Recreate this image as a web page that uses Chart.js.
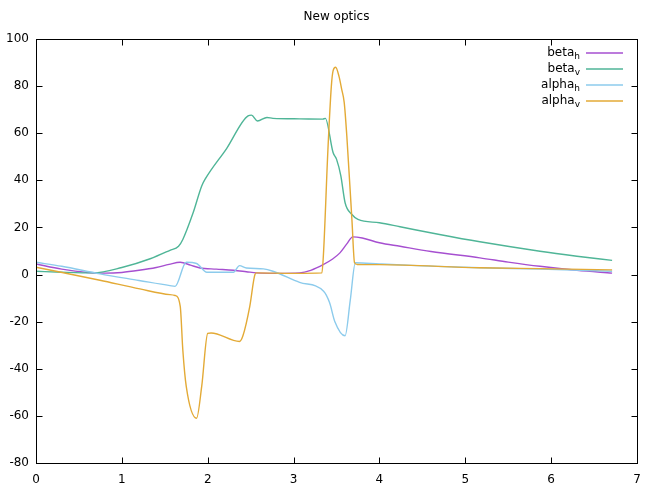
<!DOCTYPE html>
<html lang="en">
<head>
    <meta charset="utf-8">
    <title>New optics</title>
    <script src="https://cdn.jsdelivr.net/npm/chart.js"></script>
    <style>
        body { margin: 0; background: #fff; }
        canvas { display: block; }
    </style>
</head>
<body>
    <canvas id="opticsChart" width="654" height="486"></canvas>

    <script>
        // (x in metres, y in m / dimensionless)
        const betaHX = [0, 0.3, 0.6, 0.8, 1.0, 1.2, 1.4, 1.55, 1.68, 1.8, 1.91, 2.1, 2.3, 2.45, 2.57, 2.8, 3.07, 3.2, 3.35, 3.45, 3.54, 3.62, 3.69, 3.8, 4.0, 4.24, 4.6, 5.17, 5.5, 5.87, 6.3, 6.71];
        const betaHY = [4.5, 2.3, 0.9, 0.6, 0.9, 1.8, 3.0, 4.3, 5.2, 4.0, 2.8, 2.3, 1.8, 1.2, 0.7, 0.5, 0.7, 1.8, 4.3, 6.5, 9.2, 13, 16, 15.5, 13.5, 12, 9.8, 7.1, 5.3, 3.5, 1.8, 0.6];

        const betaVX = [0, 0.3, 0.67, 1.0, 1.33, 1.56, 1.66, 1.71, 1.83, 1.93, 1.97, 2.22, 2.47, 2.51, 2.58, 2.69, 2.76, 3.07, 3.34, 3.37, 3.46, 3.5, 3.55, 3.6, 3.68, 3.75, 4.0, 4.24, 4.7, 5.17, 5.87, 6.3, 6.71];
        const betaVY = [1.4, 1.0, 0.7, 3.0, 6.7, 10.3, 12, 14.9, 26.2, 37.6, 40.5, 53.5, 67.4, 67.7, 65.2, 66.7, 66.3, 66.1, 66, 66.3, 51.8, 49, 42, 30.5, 25.5, 23.4, 22, 20.3, 17, 13.9, 9.9, 7.8, 6];

        const alphaHX = [0, 0.3, 0.745, 1.2, 1.56, 1.62, 1.75, 1.87, 1.99, 2.3, 2.37, 2.45, 2.65, 2.76, 3.07, 3.35, 3.42, 3.48, 3.6, 3.66, 3.72, 4.0, 4.5, 5.17, 5.87, 6.71];
        const alphaHY = [5.2, 3.5, 0.3, -2.5, -4.7, -5, 5.2, 4.7, 1, 1, 3.8, 2.8, 2.4, 1.4, -3.3, -7.1, -12, -19.9, -26, -11, 5.0, 4.5, 3.7, 2.9, 2.3, 1.4];

        const alphaVX = [0, 0.745, 1.21, 1.56, 1.62, 1.68, 1.71, 1.75, 1.87, 1.93, 2.0, 2.04, 2.37, 2.41, 2.49, 2.55, 2.57, 3.0, 3.33, 3.35, 3.40, 3.44, 3.46, 3.49, 3.53, 3.56, 3.59, 3.62, 3.68, 3.71, 3.74, 4.0, 5.17, 5.87, 6.71];
        const alphaVY = [3.1, -2.4, -6.1, -8.5, -8.9, -13.5, -32, -47.5, -61, -47.5, -25, -24.8, -28.4, -26, -13.5, 0, 0.7, 0.5, 0.7, 10, 53, 80, 86.5, 88, 84, 78.7, 73, 58.9, 23, 5, 4.3, 4.2, 2.9, 2.5, 2.0];

        const xTicks = [0, 1, 2, 3, 4, 5, 6, 7];
        const yTicks = [-80, -60, -40, -20, 0, 20, 40, 60, 80, 100];

        const seriesNames = ['beta', 'beta', 'alpha', 'alpha'];
        const seriesSubs = ['h', 'v', 'h', 'v'];
        const seriesColors = ['#a64fd0', '#4fb597', '#8ccbec', '#e3aa36'];

        const FONT = '"DejaVu Sans", sans-serif';

        function toPoints(xs, ys) {
            return xs.map((x, i) => ({ x: x, y: ys[i] }));
        }

        // gnuplot style frame, inward ticks on all sides, title and key
        const gnuplotFrame = {
            id: 'gnuplotFrame',
            afterDraw(chart) {
                const ctx = chart.ctx;
                const a = chart.chartArea;
                const xs = chart.scales.x;
                const ys = chart.scales.y;
                const L = Math.round(a.left) + 0.5, R = Math.round(a.right) + 0.5;
                const T = Math.round(a.top) + 0.5, B = Math.round(a.bottom) + 0.5;
                ctx.save();
                ctx.strokeStyle = '#000';
                ctx.lineWidth = 1;
                ctx.strokeRect(L, T, R - L, B - T);
                ctx.beginPath();
                xTicks.forEach(v => {
                    const px = Math.round(xs.getPixelForValue(v)) + 0.5;
                    ctx.moveTo(px, B); ctx.lineTo(px, B - 6);
                    ctx.moveTo(px, T); ctx.lineTo(px, T + 6);
                });
                yTicks.forEach(v => {
                    const py = Math.round(ys.getPixelForValue(v)) + 0.5;
                    ctx.moveTo(L, py); ctx.lineTo(L + 6, py);
                    ctx.moveTo(R, py); ctx.lineTo(R - 6, py);
                });
                ctx.stroke();

                // title
                ctx.fillStyle = '#000';
                ctx.font = '12px ' + FONT;
                ctx.textAlign = 'center';
                ctx.textBaseline = 'middle';
                ctx.fillText('New optics', (a.left + a.right) / 2, 17);

                // key
                const textRight = 580, lineX0 = 586, lineX1 = 623;
                for (let i = 0; i < seriesNames.length; i++) {
                    const y = 53 + i * 16;
                    ctx.font = '9px ' + FONT;
                    const subW = ctx.measureText(seriesSubs[i]).width;
                    ctx.textAlign = 'right';
                    ctx.textBaseline = 'middle';
                    ctx.fillStyle = '#000';
                    ctx.fillText(seriesSubs[i], textRight, y + 4);
                    ctx.font = '12px ' + FONT;
                    ctx.fillText(seriesNames[i], textRight - subW, y);

                    ctx.beginPath();
                    ctx.strokeStyle = seriesColors[i];
                    ctx.lineWidth = 1.5;
                    ctx.moveTo(lineX0, y);
                    ctx.lineTo(lineX1, y);
                    ctx.stroke();
                }
                ctx.restore();
            }
        };

        const lineSets = [
            toPoints(betaHX, betaHY),
            toPoints(betaVX, betaVY),
            toPoints(alphaHX, alphaHY),
            toPoints(alphaVX, alphaVY)
        ];

        const ctx = document.getElementById('opticsChart').getContext('2d');
        new Chart(ctx, {
            type: 'line',
            data: {
                datasets: lineSets.map((pts, i) => ({
                    label: seriesNames[i] + '_' + seriesSubs[i],
                    data: pts,
                    borderColor: seriesColors[i],
                    borderWidth: 1.4,
                    pointRadius: 0,
                    fill: false,
                    cubicInterpolationMode: 'monotone',
                    order: 4 - i
                }))
            },
            options: {
                responsive: false,
                animation: false,
                layout: { padding: { top: 39, right: 17, left: 0, bottom: 0 } },
                plugins: {
                    legend: { display: false },
                    title: { display: false },
                    tooltip: { enabled: false }
                },
                scales: {
                    x: {
                        type: 'linear',
                        min: 0,
                        max: 7,
                        afterBuildTicks: s => { s.ticks = xTicks.map(v => ({ value: v })); },
                        afterFit: s => { s.height = 23; },
                        grid: { display: false, drawTicks: false },
                        border: { display: false },
                        ticks: { color: '#000', padding: 10, font: { family: FONT, size: 12 } }
                    },
                    y: {
                        type: 'linear',
                        min: -80,
                        max: 100,
                        afterBuildTicks: s => { s.ticks = yTicks.map(v => ({ value: v })); },
                        afterFit: s => { s.width = 36; },
                        grid: { display: false, drawTicks: false },
                        border: { display: false },
                        ticks: { color: '#000', padding: 7, font: { family: FONT, size: 12 } }
                    }
                }
            },
            plugins: [gnuplotFrame]
        });
    </script>
</body>
</html>
